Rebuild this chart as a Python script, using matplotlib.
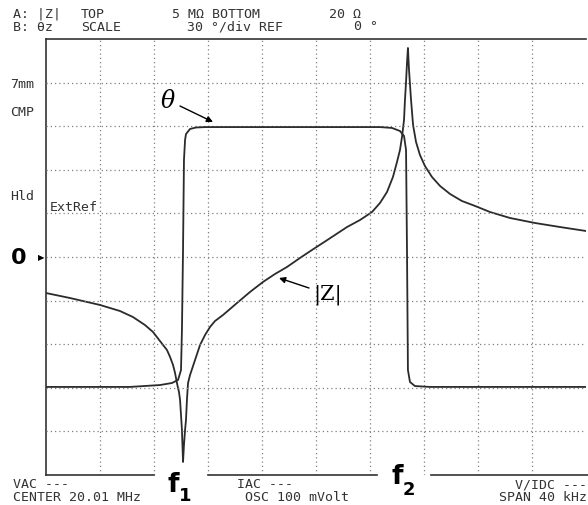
import numpy as np
import matplotlib
matplotlib.use('Agg')
import matplotlib.pyplot as plt

# frequency offsets from center (kHz), center 20.01 MHz, span 40 kHz
z_freq = [-20.00, -18.22, -16.00, -14.52, -13.56, -12.67, -12.07, -11.56, -11.04, -10.81,
          -10.59, -10.44, -10.30, -10.15, -10.07, -10.00, -9.93, -9.85, -9.78, -9.70,
          -9.63, -9.56, -9.48, -9.33, -8.96, -8.59, -8.22, -7.85, -7.48, -6.89,
          -6.37, -5.85, -4.89, -3.93, -3.04, -2.15, -1.19, -0.30, 0.67, 2.30,
          3.26, 4.15, 4.74, 5.26, 5.70, 6.00, 6.22, 6.37, 6.52, 6.59,
          6.67, 6.74, 6.81, 6.89, 7.04, 7.19, 7.41, 7.70, 8.07, 8.59,
          9.19, 9.93, 10.81, 11.78, 12.89, 14.37, 16.22, 18.07, 20.00]
# |Z| in ohms
z_mag = [3581, 3105, 2547, 2145, 1807, 1439, 1178, 912, 706, 578,
         460, 366, 275, 213, 170, 111, 72, 29, 47, 72,
         96, 170, 275, 346, 531, 814, 1082, 1360, 1613, 1914,
         2270, 2697, 3687, 4906, 6160, 7520, 9720, 12210, 15560, 23510,
         28710, 36060, 46670, 63830, 97900, 150000, 211300, 306200, 496600, 879000,
         1.47e6, 2.52e6, 3.87e6, 2.07e6, 879000, 430500, 265500, 183200, 133900, 97900,
         75700, 60260, 49350, 42850, 36060, 30410, 26370, 23510, 20990]

# phase theta (deg)
t_freq = [-20.00, -13.78, -11.56, -10.67, -10.22, -10.00, -9.93, -9.85, -9.78, -9.70,
          -9.63, -9.33, -8.89, -8.22, 4.74, 5.63, 6.22, 6.52, 6.67, 6.74,
          6.81, 6.96, 7.33, 8.44, 20.00]
t_deg = [-89.4, -89.4, -88.1, -86.7, -84.6, -77.8, -50.2, 4.8, 66.7, 80.5,
         84.6, 88.1, 89.1, 89.4, 89.4, 88.8, 86.7, 83.3, 73.6, 4.8,
         -77.8, -86.0, -88.8, -89.4, -89.4]

W, H = 588, 505
fig = plt.figure(figsize=(W / 100, H / 100), dpi=100)

def fx(x):
    return x / W

def fy(y):
    return 1 - y / H

L, R, T, B = 46, 586, 39, 475
ax = fig.add_axes([fx(L), fy(B), (R - L) / W, (B - T) / H])
ax.set_yscale('log')
ax.set_xlim(-20, 20)
ax.set_ylim(20, 5e6)
ax2 = ax.twinx()
ax2.set_ylim(-150, 150)

line_c = '#2b2b2b'
grid_c = '#808080'
dots = (0, (1, 2.4))

for a in (ax, ax2):
    for s in a.spines.values():
        s.set_visible(False)
    a.tick_params(which='both', left=False, right=False, bottom=False, top=False,
                  labelleft=False, labelright=False, labelbottom=False)

ax.set_xticks(np.arange(-16, 17, 4))
ax.minorticks_off()
ax.set_yticks([])
ax2.set_yticks(np.arange(-120, 121, 30))
ax.grid(True, axis='x', linestyle=dots, color=grid_c, lw=0.9)
ax2.grid(True, axis='y', linestyle=dots, color=grid_c, lw=0.9)

ax.plot(z_freq, z_mag, color=line_c, lw=1.3)
ax2.plot(t_freq, t_deg, color=line_c, lw=1.3)

# frame: top, left, broken bottom
for side in ('top', 'left'):
    ax.spines[side].set_visible(True)
    ax.spines[side].set_color('#333')
    ax.spines[side].set_linewidth(1.2)
for x0, x1 in [(L, 154), (208, 377), (431, 588)]:
    fig.add_artist(plt.Line2D([fx(x0), fx(x1)], [fy(B), fy(B)], color='#333', lw=1.2))

mono = dict(family='DejaVu Sans Mono', fontsize=9.5, color='#333', va='center',
            linespacing=1.0)
fig.text(fx(13), fy(21), 'A: |Z|\nB: θz', **mono)
fig.text(fx(81), fy(21), 'TOP\nSCALE', **mono)
fig.text(fx(172), fy(15), '5 MΩ BOTTOM', **mono)
fig.text(fx(329), fy(15), '20 Ω', **mono)
fig.text(fx(187), fy(27), '30 °/div REF', **mono)
fig.text(fx(354), fy(27), '0 °', **mono)

fig.text(fx(10), fy(84), '7mm', **mono)
fig.text(fx(10), fy(112), 'CMP', **mono)
fig.text(fx(10), fy(197), 'Hld', **mono)
fig.text(fx(50), fy(208), 'ExtRef', **mono)

fig.text(fx(13), fy(491), 'VAC ---\nCENTER 20.01 MHz', ha='left', **mono)
fig.text(fx(237), fy(491), 'IAC ---\n OSC 100 mVolt', ha='left', **mono)
fig.text(fx(587), fy(491), 'V/IDC ---\nSPAN 40 kHz', ha='right', multialignment='right', **mono)

fig.text(fx(11), fy(258), '0', fontsize=16, fontweight='bold', color='black', va='center')
fig.text(fx(38), fy(258), '▶', fontsize=6, color='black', va='center')

fig.text(fx(167), fy(492), 'f', fontsize=19, fontweight='bold', color='black', va='baseline')
fig.text(fx(179), fy(501), '1', fontsize=13, fontweight='bold', color='black', va='baseline')
fig.text(fx(391), fy(484), 'f', fontsize=19, fontweight='bold', color='black', va='baseline')
fig.text(fx(403), fy(495), '2', fontsize=13, fontweight='bold', color='black', va='baseline')

arrow = dict(arrowstyle='-|>', color='black', lw=1.0, shrinkA=0, shrinkB=0, mutation_scale=9)
fig.text(fx(168), fy(102), 'θ', fontsize=17, family='DejaVu Serif', style='italic',
         ha='center', va='center')
ax2.annotate('', xy=(-7.63, 92.9), xytext=(fx(180), fy(106)), textcoords='figure fraction',
             arrowprops=arrow)
fig.text(fx(328), fy(295), '|Z|', fontsize=15, family='DejaVu Serif',
         ha='center', va='center')
ax.annotate('', xy=(-2.74, 5495), xytext=(fx(309), fy(288)), textcoords='figure fraction',
            arrowprops=arrow)

fig.savefig('out.png', dpi=100)
